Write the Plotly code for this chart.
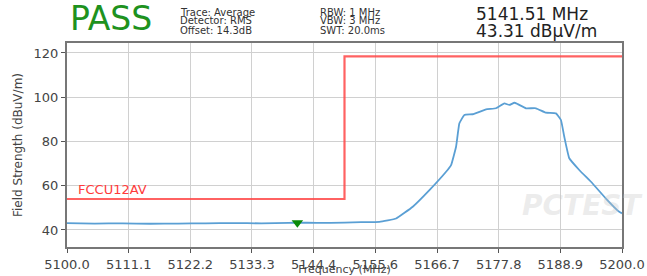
import plotly.graph_objects as go

# ---- data ----
trace_freq = [5100, 5105, 5110, 5115, 5120, 5125, 5130, 5135, 5140, 5141.51, 5145, 5150,
              5153, 5156.3, 5159.3, 5162.3, 5165.3, 5168.3, 5169.2, 5170.1, 5170.7, 5171.6,
              5173.1, 5175.5, 5177.3, 5178.8, 5179.7, 5180.6, 5181.2, 5182.7, 5184.5, 5186.3,
              5188.1, 5189.0, 5189.6, 5190.5, 5192.3, 5194.7, 5197.1, 5199.5, 5200]
trace_level = [43.1, 42.9, 43.0, 42.8, 42.9, 43.0, 43.1, 43.0, 43.2, 43.31, 43.2, 43.3,
               43.5, 43.7, 45.2, 50.5, 58.0, 66.3, 69.3, 77.6, 88.2, 92.0,
               92.3, 94.5, 95.0, 97.2, 96.5, 97.5, 96.9, 95.0, 95.0, 93.0,
               92.7, 89.7, 82.1, 72.4, 67.1, 61.0, 54.2, 48.2, 47.5]

limit_freq = [5100, 5150, 5150, 5200]
limit_level = [54, 54, 118.5, 118.5]

marker_freq = [5141.51]
marker_level = [43.31]

x_tick_vals = [5100.0, 5111.11, 5122.22, 5133.33, 5144.44, 5155.56, 5166.67, 5177.78, 5188.89, 5200.0]
x_tick_text = ["5100.0", "5111.1", "5122.2", "5133.3", "5144.4", "5155.6", "5166.7", "5177.8", "5188.9", "5200.0"]
y_tick_vals = [40, 60, 80, 100, 120]

FONT = "DejaVu Sans"

fig = go.Figure()
fig.add_trace(go.Scatter(x=limit_freq, y=limit_level, mode="lines",
                         line=dict(color="rgba(255,70,70,0.85)", width=2.2),
                         hoverinfo="skip", showlegend=False))
fig.add_trace(go.Scatter(x=trace_freq, y=trace_level, mode="lines",
                         line=dict(color="#5a9fd4", width=1.8, shape="spline", smoothing=0.3),
                         showlegend=False))
fig.add_trace(go.Scatter(x=marker_freq, y=marker_level, mode="markers",
                         marker=dict(symbol="triangle-down", size=10, color="#0a8a0a"),
                         showlegend=False))

# (text, x_px, y_px, font) in whole-figure pixel space
annotations = [
    ("PASS", 68, 19, dict(size=33, color="#1e921e")),
    ("Trace: Average", 178, 12, dict(size=10, color="#333")),
    ("Detector: RMS", 178, 21, dict(size=10, color="#333")),
    ("Offset: 14.3dB", 178, 30, dict(size=10, color="#333")),
    ("RBW: 1 MHz", 318, 12, dict(size=10, color="#333")),
    ("VBW: 3 MHz", 318, 21, dict(size=10, color="#333")),
    ("SWT: 20.0ms", 318, 30, dict(size=10, color="#333")),
    ("5141.51 MHz", 474, 14, dict(size=17, color="#222")),
    ("43.31 dBµV/m", 474, 31, dict(size=17, color="#222")),
    ("FCCU12AV", 76, 189, dict(size=13, color="#ff3b3b")),
    ("<i><b>PCTEST</b></i>", 520, 205, dict(size=28, color="rgba(200,200,200,0.35)")),
]

plot_l, plot_r, plot_t, plot_b = 67, 622, 43, 247
final = []
for text, px, py, f in annotations:
    xf = (px - plot_l) / (plot_r - plot_l)
    yf = (plot_b - py) / (plot_b - plot_t)
    final.append(dict(text=text, x=xf, y=yf, xref="paper", yref="paper",
                      xanchor="left", yanchor="middle", showarrow=False,
                      font=dict(family=FONT, **f)))

fig.update_layout(
    width=647, height=276,
    margin=dict(l=plot_l, r=647 - plot_r, t=plot_t, b=276 - plot_b),
    paper_bgcolor="white", plot_bgcolor="white",
    font=dict(family=FONT, size=12, color="#444"),
    xaxis=dict(range=[5100, 5200], tickvals=x_tick_vals, ticktext=x_tick_text, automargin=False,
               showgrid=True, gridcolor="#d0d0d0", gridwidth=1.2,
               showline=True, linecolor="#777", linewidth=2, mirror=True,
               ticks="outside", ticklen=4, tickcolor="#555",
               tickfont=dict(size=13, color="#444"), zeroline=False,
               title=dict(text="Frequency (MHz)", font=dict(size=11, color="#444"), standoff=0)),
    yaxis=dict(range=[32.3, 124.5], tickvals=y_tick_vals, automargin=False,
               showgrid=True, gridcolor="#d0d0d0", gridwidth=1.2,
               showline=True, linecolor="#777", linewidth=2, mirror=True,
               ticks="outside", ticklen=4, tickcolor="#555",
               tickfont=dict(size=13, color="#444"), zeroline=False,
               title=dict(text="Field Strength (dBuV/m)", font=dict(size=12, color="#444"), standoff=8)),
    annotations=final,
)

fig.write_html("out.html", config={"displayModeBar": False},
               post_script="document.body.style.margin='0';document.body.style.padding='0';"
                           "document.documentElement.style.overflow='hidden';")
